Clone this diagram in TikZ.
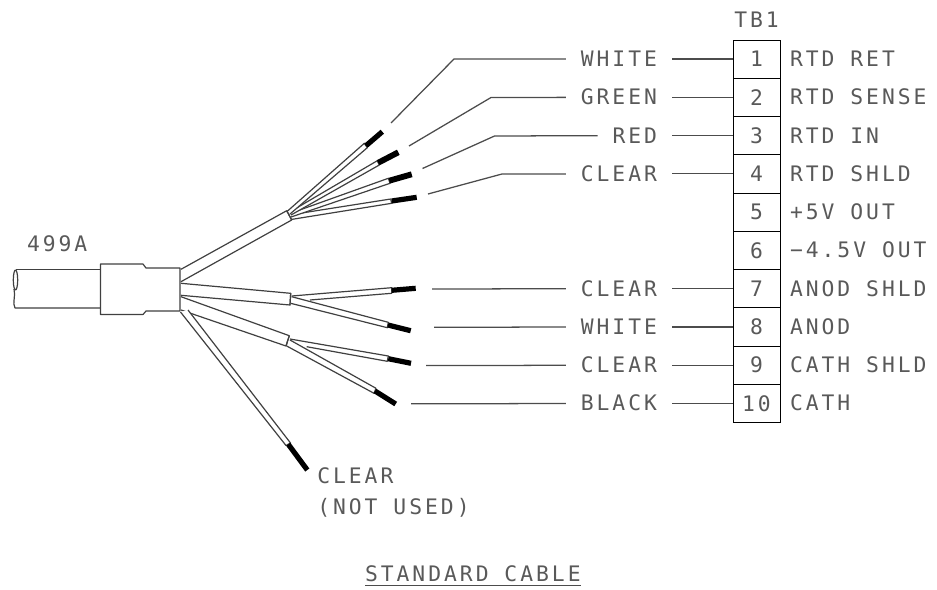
\documentclass[tikz,border=0pt]{standalone}
\usepackage{fontspec}
\setmainfont{DejaVu Sans Mono}[LetterSpace=14]
\usetikzlibrary{positioning}

\tikzset{
  cad/.style={font=\fontsize{16pt}{23.25pt}\selectfont, text=black!65},
  tbcell/.style={cad, draw, minimum width=35.25pt, minimum height=28.7pt, inner sep=0pt, outer sep=0pt},
  wirelabel/.style={cad, text height=11.25pt, text depth=0pt, inner xsep=11.25pt, inner ysep=0pt, outer sep=0pt},
  siglabel/.style={cad, text height=11.25pt, text depth=0pt, inner sep=0pt, outer sep=0pt},
  lead/.style={draw=black!70, line width=0.95pt},
  jacket/.style={fill=white, draw=black!75, line width=0.9pt, line join=round},
  bare/.style={line width=3.9pt, black},
}

\begin{document}
\begin{tikzpicture}[x=0.75pt, y=-0.75pt]
  \useasboundingbox (0, 0) rectangle (937, 589);

  % terminal block
  \foreach \n/\sig in {1/RTD RET, 2/RTD SENSE, 3/RTD IN, 4/RTD SHLD, 5/+5V OUT, 6/−4.5V OUT, 7/ANOD SHLD, 8/ANOD, 9/CATH SHLD, 10/CATH} {
    \node[tbcell] (tb\n) at (756.5, {59 + (\n - 1) * 38.27}) {\n};
    \node[siglabel, right=7.5pt of tb\n] (sig\n) {\sig};
  }
  \node[siglabel, above=9pt of tb1] (tbname) {TB1};

  % wire colours
  \node[wirelabel, left=45.75pt of tb1] (white1) {WHITE};
  \node[wirelabel, left=45.75pt of tb2] (green) {GREEN};
  \node[wirelabel, left=45.75pt of tb3] (red) {RED};
  \node[wirelabel, left=45.75pt of tb4] (clear1) {CLEAR};
  \node[wirelabel, left=45.75pt of tb7] (clear2) {CLEAR};
  \node[wirelabel, left=45.75pt of tb8] (white2) {WHITE};
  \node[wirelabel, left=45.75pt of tb9] (clear3) {CLEAR};
  \node[wirelabel, left=45.75pt of tb10] (black1) {BLACK};

  \foreach \a/\b in {white1/tb1, green/tb2, red/tb3, clear1/tb4, clear2/tb7, white2/tb8, clear3/tb9, black1/tb10}
    \draw[lead] (\a) -- (\b);

  % free ends and elbows of the leads
  \coordinate (endwhite1) at (391, 123);
  \coordinate (bendwhite1) at (454, 59);
  \coordinate (endgreen) at (409, 146);
  \coordinate (bendgreen) at (491, 97.5);
  \coordinate (endred) at (422.5, 168.5);
  \coordinate (bendred) at (494.5, 136);
  \coordinate (endclear1) at (428, 194);
  \coordinate (bendclear1) at (502, 174);
  \coordinate (endclear2) at (432, 289);
  \coordinate (endwhite2) at (434, 327.3);
  \coordinate (endclear3) at (426, 365.6);
  \coordinate (endblack1) at (411, 403.8);

  \draw[lead] (white1) -- (bendwhite1) -- (endwhite1);
  \draw[lead] (green) -- (bendgreen) -- (endgreen);
  \draw[lead] (red) -- (bendred) -- (endred);
  \draw[lead] (clear1) -- (bendclear1) -- (endclear1);
  \draw[lead] (clear2) -- (endclear2);
  \draw[lead] (white2) -- (endwhite2);
  \draw[lead] (clear3) -- (endclear3);
  \draw[lead] (black1) -- (endblack1);

  % cable
  \draw[jacket] (100.5, 269.5) -- (16, 269.5);
  \draw[jacket] (100.5, 308) -- (15, 308) .. controls (12, 303) and (16, 296) .. (14, 289);
  \draw[jacket] (15.5, 280) ellipse (2.2 and 10);
  \node[siglabel, anchor=west] (cablename) at (27, 243.5) {499A};

  % upper bundle
  \filldraw[jacket] (291, 219.5) -- (391.7, 203.3) -- (390.7, 199) -- (289, 215);
  \filldraw[jacket] (291, 217) -- (390, 183.3) -- (388.3, 178.3) -- (288.5, 214);
  \filldraw[jacket] (291, 215) -- (379.3, 165) -- (377.3, 160.7) -- (288, 213);
  \filldraw[jacket] (290, 214) -- (367.3, 147.7) -- (364.3, 143.3) -- (287, 211.5);
  \draw[bare] (366, 145.7) -- (382.3, 131.7);
  \draw[bare, line width=4.4pt] (378.3, 162.7) -- (398.3, 152.3);
  \draw[bare, line width=4.4pt] (389.3, 180.7) -- (411.7, 174.3);
  \draw[bare] (391.7, 201) -- (416.7, 197.3);
  \filldraw[jacket] (181, 281.7) -- (291.7, 220) -- (286.7, 210.7) -- (181, 269.3);
  \draw[jacket] (286.7, 210.7) -- (291.7, 220);

  % middle bundle
  \filldraw[jacket] (310, 300) -- (391.7, 293.3) -- (391.7, 287.7) -- (291.7, 296);
  \filldraw[jacket] (290.7, 303.3) -- (387.3, 327.7) -- (388.3, 322.3) -- (291.7, 296.7);
  \draw[bare] (391.7, 290.3) -- (415.7, 288.3);
  \draw[bare] (388, 325) -- (410.7, 330.7);
  \filldraw[jacket] (181, 295.3) -- (290, 305) -- (290.7, 293.3) -- (181, 283.3);
  \draw[jacket] (290, 305) -- (290.7, 293.3);

  % lower bundle
  \filldraw[jacket] (306.7, 346.7) -- (387.3, 361.3) -- (388.3, 356) -- (290, 339);
  \filldraw[jacket] (286.7, 346) -- (374, 393.3) -- (376, 388.3) -- (290, 340);
  \draw[bare] (388.3, 358.7) -- (411, 363.3);
  \draw[bare] (375, 391) -- (395.7, 404);
  \filldraw[jacket] (181, 310) -- (286, 346) -- (289.3, 335.7) -- (181, 296.7);
  \draw[jacket] (286, 346) -- (289.3, 335.7);

  % spare wire
  \filldraw[jacket] (180.5, 312) -- (286, 445.5) -- (290.5, 443) -- (188, 310);
  \draw[bare] (288.3, 444.3) -- (307.3, 470);
  \node[cad, anchor=north west, align=left, inner sep=0pt] (spare) at (317, 467.5) {CLEAR\\(NOT USED)};

  % sleeve
  \filldraw[jacket] (100.5, 264) -- (143, 264) -- (146, 268) -- (180, 268) -- (180, 311) -- (146, 311) -- (143, 314.5) -- (100.5, 314.5) -- cycle;

  % title
  \node[siglabel, anchor=west] (title) at (365, 574) {STANDARD CABLE};
  \draw[lead, line width=1.3pt] ([yshift=-3pt]title.south west) -- ([yshift=-3pt]title.south east);
\end{tikzpicture}
\end{document}
